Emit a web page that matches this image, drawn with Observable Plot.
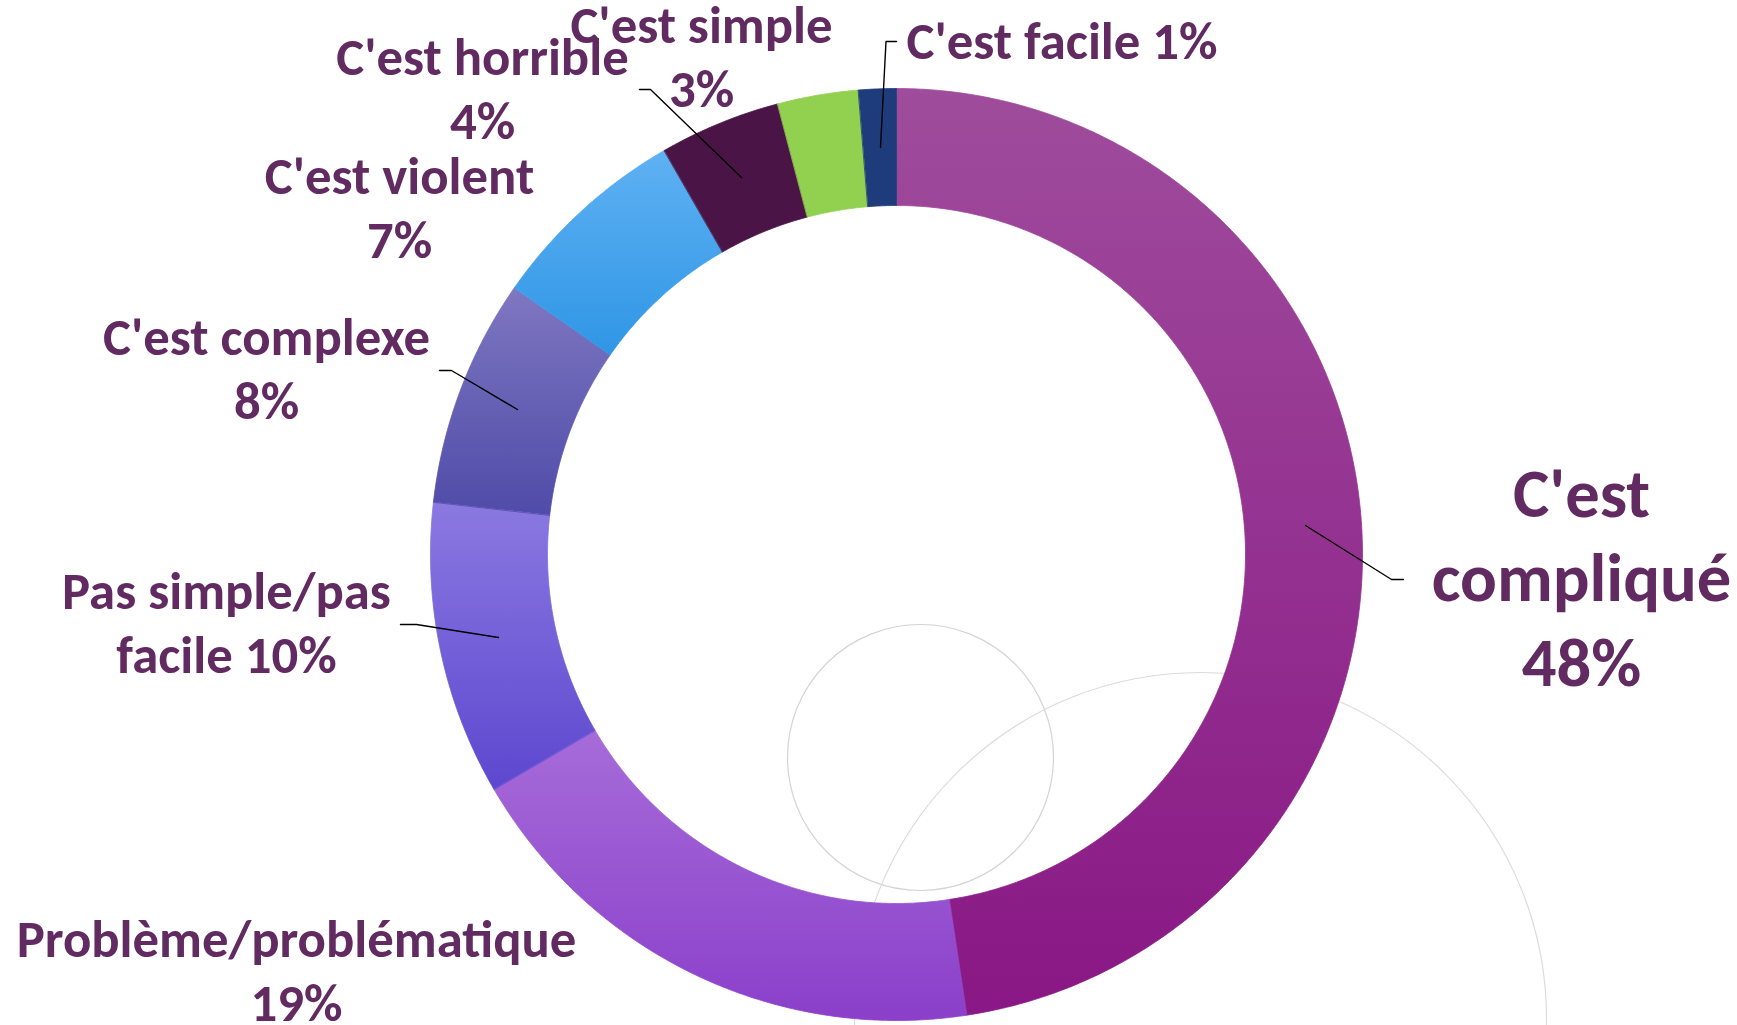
<!DOCTYPE html>
<html>
<head>
<meta charset="utf-8">
<script src="https://cdn.jsdelivr.net/npm/d3@7"></script>
<script src="https://cdn.jsdelivr.net/npm/@observablehq/plot@0.6"></script>
<style>
  html, body { margin: 0; padding: 0; background: #ffffff; overflow: hidden; }
  #chart svg { display: block; }
</style>
</head>
<body>
<div id="chart"></div>
<script>
// ---------------- DATA ----------------
const categories = [
  "C'est compliqué",
  "Problème/problématique",
  "Pas simple/pas facile",
  "C'est complexe",
  "C'est violent",
  "C'est horrible",
  "C'est simple",
  "C'est facile"
];
// shares (%); labels show them rounded
const percents = [47.6, 19.0, 10.2, 7.9, 7.0, 4.2, 2.8, 1.3];
// label text, "{v}" is replaced by the rounded percentage
const labelTemplates = [
  "C'est\ncompliqué\n{v}",
  "Problème/problématique\n{v}",
  "Pas simple/pas\nfacile {v}",
  "C'est complexe\n{v}",
  "C'est violent\n{v}",
  "C'est horrible\n{v}",
  "C'est simple\n{v}",
  "C'est facile {v}"
];

// ---------------- STYLE / LAYOUT ----------------
const W = 1737, H = 1025;
const CX = 896, CY = 554, R_OUT = 466, R_IN = 349;
const sliceGradients = [
  ["#9f4c9c", "#891785"],
  ["#a66cd9", "#8b3fca"],
  ["#8b79e1", "#5d47cf"],
  ["#7f77c1", "#4f4ba8"],
  ["#5fb1f2", "#2f96e6"],
  ["#4a1546", "#4a1546"],
  ["#92d050", "#92d050"],
  ["#1e3c7c", "#1e3c7c"]
];
const textColor = "#612b61";
// label anchor positions: x, baseline of the last line, size, anchor
const labelLayout = [
  {x: 1581, y: 685, big: true, anchor: "middle"},
  {x: 296, y: 1020, anchor: "middle"},
  {x: 226, y: 672, anchor: "middle"},
  {x: 266, y: 418, anchor: "middle"},
  {x: 399, y: 257, anchor: "middle"},
  {x: 482, y: 138, anchor: "middle"},
  {x: 701, y: 106, anchor: "middle"},
  {x: 906, y: 58, anchor: "start"}
];
const leaderLayout = [
  [[1305, 525], [1391, 579], [1403, 579]],
  null,
  [[498, 637], [416, 624], [400, 624]],
  [[517, 409], [451, 370], [439, 370]],
  null,
  [[741, 177], [650, 89], [639, 89]],
  null,
  [[880, 147], [885.5, 41], [896, 41]]
];
const smallCircle = {x: 920, y: 757, r: 133};
const bigCircle = {x: 1200, y: 1018, r: 346};

// ---------------- FONT SIZE ----------------
const FONT = "Carlito, Lato, 'Open Sans', sans-serif";
const ctx = document.createElement("canvas").getContext("2d");
ctx.font = `bold 52.5px ${FONT}`;
const fscale = 311 / ctx.measureText("C'est facile 1%").width;
const fsSmall = 52.5 * fscale, fsBig = 68.3 * fscale;

// ---------------- BUILD SLICES ----------------
const total = d3.sum(percents);
const slicePts = [];
let cum = 0;
categories.forEach((cat, i) => {
  const a0 = cum / total * 2 * Math.PI;
  cum += percents[i];
  const a1 = cum / total * 2 * Math.PI;
  const n = Math.max(4, Math.ceil((a1 - a0) / (Math.PI / 360)));
  const fill = `url(#slice-grad-${i})`;
  for (let k = 0; k <= n; k++) {
    const a = a0 + (a1 - a0) * k / n;
    slicePts.push({cat, fill, x: CX + R_OUT * Math.sin(a), y: CY - R_OUT * Math.cos(a)});
  }
  for (let k = n; k >= 0; k--) {
    const a = a0 + (a1 - a0) * k / n;
    slicePts.push({cat, fill, x: CX + R_IN * Math.sin(a), y: CY - R_IN * Math.cos(a)});
  }
});

const labels = categories.map((cat, i) => ({
  cat,
  text: labelTemplates[i].replace("{v}", Math.round(percents[i] / total * 100) + "%"),
  ...labelLayout[i]
}));
const leaders = [];
leaderLayout.forEach((pts, i) => {
  if (!pts) return;
  pts.forEach(([x, y]) => leaders.push({cat: categories[i], x, y}));
});

const plot = Plot.plot({
  width: W,
  height: H,
  margin: 0,
  x: {domain: [0, W], range: [0, W], axis: null},
  y: {domain: [0, H], range: [0, H], axis: null},
  color: {type: "identity"},
  style: {background: "#ffffff", fontFamily: FONT},
  marks: [
    Plot.dot([smallCircle], {x: "x", y: "y", r: smallCircle.r, stroke: "#d4d4d4", strokeWidth: 1.2, fill: "none"}),
    Plot.dot([bigCircle], {x: "x", y: "y", r: bigCircle.r, stroke: "#dcdcdc", strokeWidth: 1.2, fill: "none"}),
    Plot.line(slicePts, {x: "x", y: "y", z: "cat", fill: "fill", stroke: "fill", strokeWidth: 0.8, curve: "linear-closed"}),
    Plot.line(leaders, {x: "x", y: "y", z: "cat", stroke: "#000000", strokeWidth: 1.4}),
    Plot.text(labels.filter(d => !d.big && d.anchor === "middle"), {
      x: "x", y: "y", text: "text", fill: textColor, fontSize: fsSmall, fontWeight: "bold",
      textAnchor: "middle", lineAnchor: "bottom", lineHeight: 1.21
    }),
    Plot.text(labels.filter(d => !d.big && d.anchor === "start"), {
      x: "x", y: "y", text: "text", fill: textColor, fontSize: fsSmall, fontWeight: "bold",
      textAnchor: "start", lineAnchor: "bottom", lineHeight: 1.21
    }),
    Plot.text(labels.filter(d => d.big), {
      x: "x", y: "y", text: "text", fill: textColor, fontSize: fsBig, fontWeight: "bold",
      textAnchor: "middle", lineAnchor: "bottom", lineHeight: 1.23
    })
  ]
});

// gradients
const svgNS = "http://www.w3.org/2000/svg";
const defs = document.createElementNS(svgNS, "defs");
sliceGradients.forEach(([c0, c1], i) => {
  const g = document.createElementNS(svgNS, "linearGradient");
  g.setAttribute("id", `slice-grad-${i}`);
  g.setAttribute("x1", "0"); g.setAttribute("y1", "0");
  g.setAttribute("x2", "0"); g.setAttribute("y2", "1");
  [[0, c0], [1, c1]].forEach(([o, c]) => {
    const s = document.createElementNS(svgNS, "stop");
    s.setAttribute("offset", o);
    s.setAttribute("stop-color", c);
    g.appendChild(s);
  });
  defs.appendChild(g);
});
plot.insertBefore(defs, plot.firstChild);
document.getElementById("chart").appendChild(plot);
</script>
</body>
</html>
